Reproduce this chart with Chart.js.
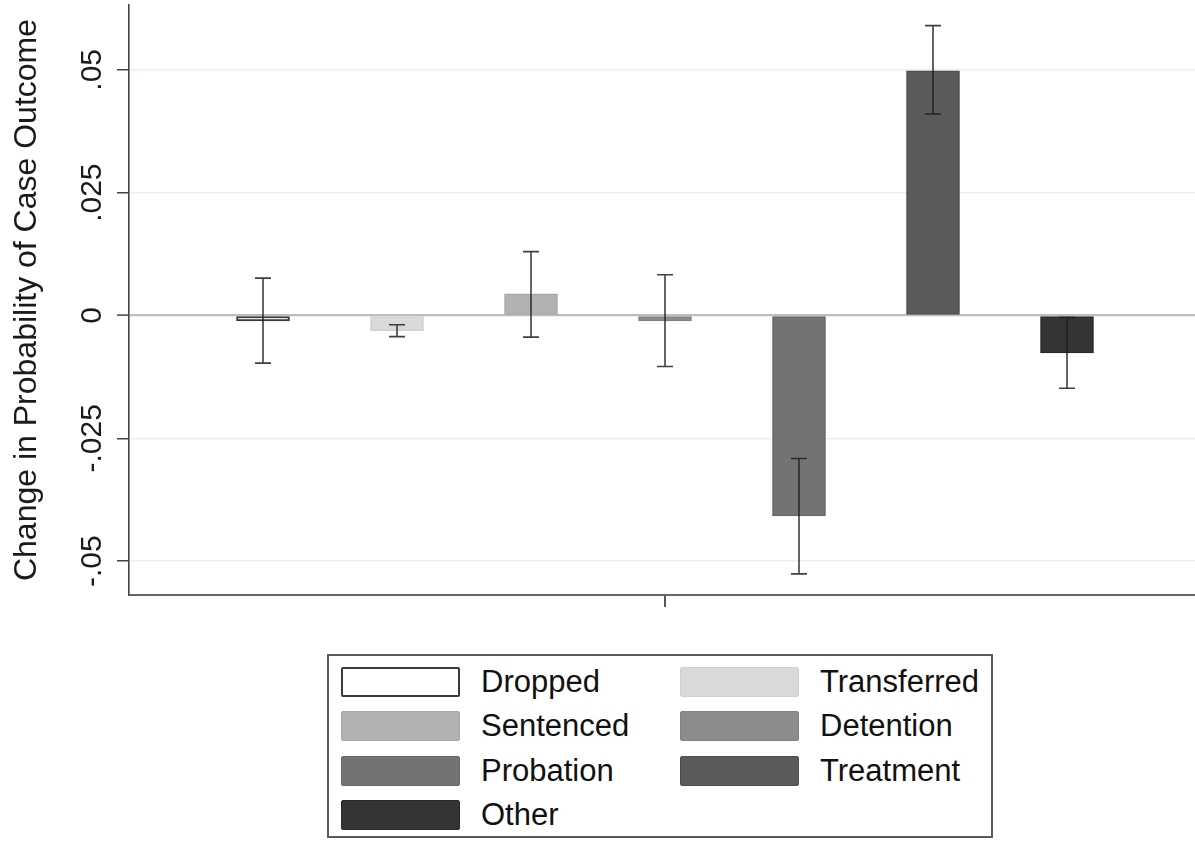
<!DOCTYPE html>
<html>
<head>
<meta charset="utf-8">
<script src="https://cdn.jsdelivr.net/npm/chart.js@4"></script>
<style>
  html, body { margin: 0; padding: 0; background: #ffffff; overflow: hidden; width: 1195px; height: 843px; }
  #wrap { position: absolute; left: 0; top: 0; width: 1201px; height: 620px; }
  #legend {
    position: absolute; left: 327px; top: 654px; width: 666px; height: 184px;
    box-sizing: border-box; border: 2px solid #5a5a5a;
    padding: 11px 0 0 12px;
    display: grid; grid-template-columns: 339px 300px; grid-auto-rows: 44.3px;
    font-family: "Liberation Sans", Arial, sans-serif; font-size: 31px; color: #111;
  }
  .item { display: flex; align-items: center; height: 30px; }
  .sw { width: 119px; height: 30px; box-sizing: border-box; margin-right: 21px; border-radius: 2px; flex: none; }
  .lbl { line-height: 30px; white-space: nowrap; }
</style>
</head>
<body>
<div id="wrap"><canvas id="c" width="1201" height="620"></canvas></div>
<div id="legend"></div>
<script>
// ---- data ----
const categories = ['Dropped', 'Transferred', 'Sentenced', 'Detention', 'Probation', 'Treatment', 'Other'];
const estimates  = [-0.0011, -0.0031, 0.0044, -0.0011, -0.0408, 0.0498, -0.0076];
const ciLow      = [-0.0097, -0.0043, -0.0044, -0.0104, -0.0526, 0.0410, -0.0148];
const ciHigh     = [ 0.0076, -0.0019,  0.0130,  0.0083, -0.0291, 0.0590, -0.0004];
const yTickValues = [-0.05, -0.025, 0, 0.025, 0.05];
const yTickLabels = ['-.05', '-.025', '0', '.025', '.05'];
const yTitle = 'Change in Probability of Case Outcome';

// ---- styles ----
const fills   = ['#ffffff', '#d9d9d9', '#b2b2b2', '#8c8c8c', '#737373', '#5a5a5a', '#343434'];
const borders = ['#3a3a3a', '#d0d0d0', '#a8a8a8', '#828282', '#686868', '#4e4e4e', '#2a2a2a'];

const slots = [''].concat(categories).concat(['']);

const datasets = categories.map((name, i) => ({
  label: name,
  data: slots.map((_, j) => (j === i + 1 ? estimates[i] : null)),
  backgroundColor: fills[i],
  borderColor: borders[i],
  borderWidth: i === 0 ? 2 : 1.5,
  borderSkipped: false,
  grouped: false,
  barThickness: 53
}));

const errorBars = {
  id: 'errorBars',
  afterDatasetsDraw(chart) {
    const { ctx, scales: { x, y } } = chart;
    ctx.save();
    ctx.strokeStyle = 'rgba(30,30,30,0.85)';
    ctx.lineWidth = 1.6;
    const cap = 8;
    categories.forEach((_, i) => {
      const px = x.getPixelForValue(i + 1);
      const lo = y.getPixelForValue(ciLow[i]);
      const hi = y.getPixelForValue(ciHigh[i]);
      ctx.beginPath();
      ctx.moveTo(px, lo); ctx.lineTo(px, hi);
      ctx.moveTo(px - cap, lo); ctx.lineTo(px + cap, lo);
      ctx.moveTo(px - cap, hi); ctx.lineTo(px + cap, hi);
      ctx.stroke();
    });
    ctx.restore();
  }
};

const chart = new Chart(document.getElementById('c'), {
  type: 'bar',
  data: { labels: slots, datasets },
  options: {
    responsive: false,
    animation: false,
    devicePixelRatio: 1,
    layout: { padding: { top: 5, left: 0, right: 0, bottom: 13 } },
    plugins: { legend: { display: false }, tooltip: { enabled: false } },
    scales: {
      x: {
        type: 'category',
        offset: false,
        grid: {
          offset: false,
          drawOnChartArea: false,
          drawTicks: true,
          tickLength: 12,
          color: (c) => (c.index === 4 ? '#555555' : 'rgba(0,0,0,0)'),
          lineWidth: 2
        },
        border: { display: true, color: '#666666', width: 2 },
        ticks: { display: false }
      },
      y: {
        min: -0.0569,
        max: 0.0632,
        afterBuildTicks: (s) => { s.ticks = yTickValues.map(v => ({ value: v })); },
        afterFit: (s) => { s.width = 129; },
        grid: {
          color: (c) => (c.tick && c.tick.value === 0 ? '#bdbdbd' : '#e6eff1'),
          lineWidth: (c) => (c.tick && c.tick.value === 0 ? 2.2 : 1.5),
          tickColor: '#444444',
          tickWidth: 1.5,
          tickLength: 12,
          drawTicks: true
        },
        border: { display: true, color: '#444444', width: 1.6 },
        ticks: {
          minRotation: 90,
          maxRotation: 90,
          crossAlign: 'center',
          padding: -10,
          color: '#1a1a1a',
          font: { family: '"Liberation Sans", Arial, sans-serif', size: 30, lineHeight: 0.3 },
          callback: (v) => {
            const k = yTickValues.findIndex(t => Math.abs(t - v) < 1e-9);
            return k >= 0 ? yTickLabels[k] : null;
          }
        },
        title: {
          display: true,
          text: yTitle,
          color: '#1a1a1a',
          font: { family: '"Liberation Sans", Arial, sans-serif', size: 32, lineHeight: 1 },
          padding: { top: 11, bottom: 0 }
        }
      }
    }
  },
  plugins: [errorBars]
});

// HTML legend from the chart's datasets
const leg = document.getElementById('legend');
chart.data.datasets.forEach((ds, i) => {
  const item = document.createElement('div');
  item.className = 'item';
  const sw = document.createElement('div');
  sw.className = 'sw';
  sw.style.background = ds.backgroundColor;
  sw.style.border = (i === 0 ? '2.5px' : '1.5px') + ' solid ' + ds.borderColor;
  const lb = document.createElement('span');
  lb.className = 'lbl';
  lb.textContent = ds.label;
  item.appendChild(sw); item.appendChild(lb);
  leg.appendChild(item);
});
</script>
</body>
</html>
